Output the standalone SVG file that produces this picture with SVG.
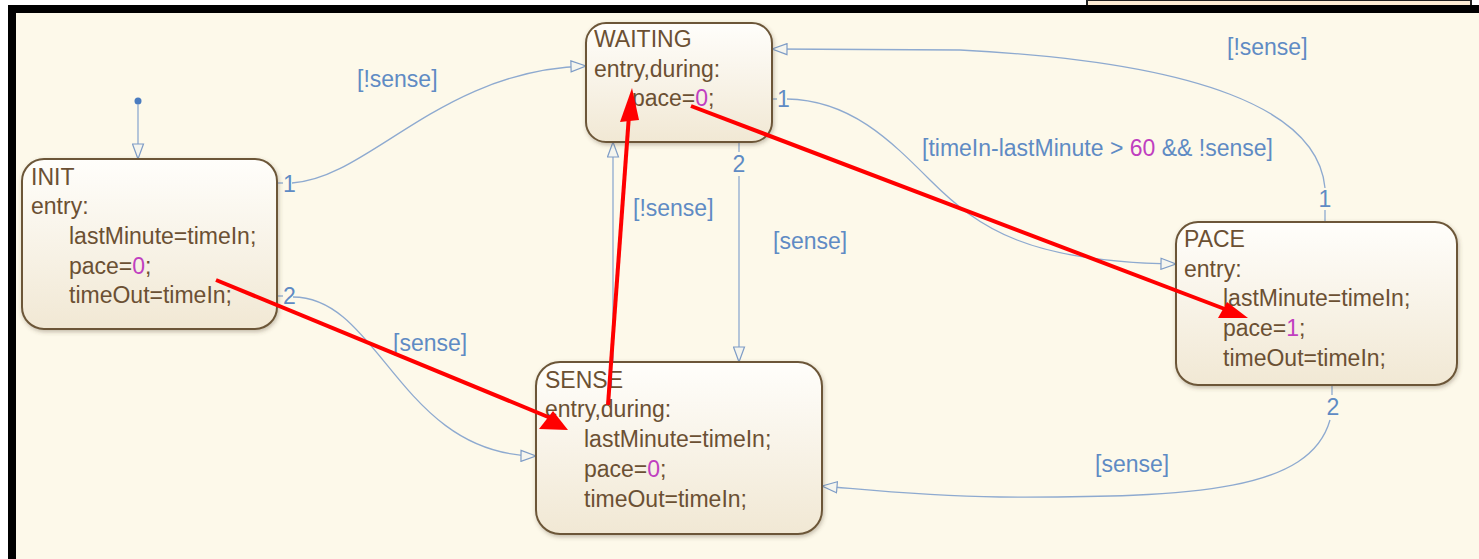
<svg xmlns="http://www.w3.org/2000/svg" width="1479" height="559" viewBox="0 0 1479 559">
<style>
.st{fill:url(#ng);stroke:#6c5739;stroke-width:2;filter:url(#sh)}
.nt{font-family:"Liberation Sans",Arial,sans-serif;font-size:23px;fill:#6b5033}
.num{fill:#c03fc0}
.lb{font-family:"Liberation Sans",Arial,sans-serif;font-size:23px;fill:#5f8bc4}
.cn{fill:none;stroke:#8eaad0;stroke-width:1.3}
.ar{marker-end:url(#oa)}
.red{stroke:#ff0000;stroke-width:4;fill:none}
.rh{fill:#ff0000}
</style>
<defs>
<linearGradient id="ng" x1="0" y1="0" x2="0" y2="1">
<stop offset="0" stop-color="#fffefb"/>
<stop offset="1" stop-color="#f1e8d4"/>
</linearGradient>
<filter id="sh" x="-10%" y="-10%" width="125%" height="130%">
<feDropShadow dx="1" dy="2" stdDeviation="2" flood-color="#5a4a30" flood-opacity="0.35"/>
</filter>
<marker id="oa" viewBox="0 0 17 13" refX="16" refY="6.5" markerWidth="17" markerHeight="13" markerUnits="userSpaceOnUse" orient="auto">
<path d="M1,1 L16,6.5 L1,12 Z" fill="#f5f5ee" stroke="#7e9cc6" stroke-width="1.2"/>
</marker>
</defs>
<rect x="0" y="0" width="1479" height="559" fill="#ffffff"/>
<rect x="1087" y="0" width="384" height="8" fill="#fcebd3" stroke="#222" stroke-width="2"/>
<rect x="16" y="13" width="1463" height="546" fill="#fdf9ea"/>
<rect x="8" y="5" width="1471" height="8" fill="#000"/>
<rect x="8" y="5" width="8" height="554" fill="#000"/>

<g id="connectors">
<circle cx="138" cy="101" r="3.5" fill="#4a7cc0"/>
<path class="cn ar" d="M138,104 L138,159"/>
<path class="cn" d="M277,183 L283,183"/>
<path class="cn ar" d="M292,183 C370,178 440,70 586,66"/>
<path class="cn" d="M277,296 L283,296"/>
<path class="cn ar" d="M293,297 C380,297 400,455 536,456"/>
<path class="cn" d="M739,142 L739,152"/>
<path class="cn ar" d="M739,176 L739,362"/>
<path class="cn ar" d="M613,362 L613,142"/>
<path class="cn" d="M772,99 L777,99"/>
<path class="cn ar" d="M787,99 C850,100 890,140 930,180 C980,230 1030,262 1176,264"/>
<path class="cn" d="M1325,222 L1325,210"/>
<path class="cn ar" d="M1325,188 C1318,110 1200,62 960,50 L772,49"/>
<path class="cn" d="M1332,385 L1332,395"/>
<path class="cn ar" d="M1330,420 C1310,490 1200,498 1000,497 C920,496 870,490 822,486"/>
<text class="lb" x="283" y="192">1</text>
<text class="lb" x="283" y="304">2</text>
<text class="lb" x="739" y="172" text-anchor="middle">2</text>
<text class="lb" x="777" y="107">1</text>
<text class="lb" x="1325" y="207" text-anchor="middle">1</text>
<text class="lb" x="1333" y="415" text-anchor="middle">2</text>
<text class="lb" x="357" y="87">[!sense]</text>
<text class="lb" x="1227" y="55">[!sense]</text>
<text class="lb" x="922" y="156">[timeIn-lastMinute &gt; <tspan class="num">60</tspan> &amp;&amp; !sense]</text>
<text class="lb" x="633" y="216">[!sense]</text>
<text class="lb" x="773" y="249">[sense]</text>
<text class="lb" x="393" y="351">[sense]</text>
<text class="lb" x="1095" y="472">[sense]</text>
</g>

<g id="INIT">
<rect class="st" x="22" y="159" width="255" height="170" rx="22"/>
<text class="nt" x="31" y="185">INIT</text>
<text class="nt" x="31" y="214">entry:</text>
<text class="nt" x="69" y="244">lastMinute=timeIn;</text>
<text class="nt" x="69" y="274">pace=<tspan class="num">0</tspan>;</text>
<text class="nt" x="69" y="303">timeOut=timeIn;</text>
</g>

<g id="WAITING">
<rect class="st" x="586" y="23" width="186" height="119" rx="20"/>
<text class="nt" x="594" y="47">WAITING</text>
<text class="nt" x="594" y="77">entry,during:</text>
<text class="nt" x="632" y="106">pace=<tspan class="num">0</tspan>;</text>
</g>

<g id="PACE">
<rect class="st" x="1176" y="222" width="281" height="163" rx="22"/>
<text class="nt" x="1184" y="247">PACE</text>
<text class="nt" x="1184" y="277">entry:</text>
<text class="nt" x="1223" y="306">lastMinute=timeIn;</text>
<text class="nt" x="1223" y="336">pace=<tspan class="num">1</tspan>;</text>
<text class="nt" x="1223" y="366">timeOut=timeIn;</text>
</g>

<g id="SENSE">
<rect class="st" x="536" y="362" width="286" height="172" rx="24"/>
<text class="nt" x="545" y="388">SENSE</text>
<text class="nt" x="545" y="417">entry,during:</text>
<text class="nt" x="584" y="447">lastMinute=timeIn;</text>
<text class="nt" x="584" y="477">pace=<tspan class="num">0</tspan>;</text>
<text class="nt" x="584" y="507">timeOut=timeIn;</text>
</g>

<g id="annotations">
<line class="red" x1="216" y1="280" x2="553" y2="419"/>
<polygon class="rh" points="539,429 553,411 568,430"/>
<line class="red" x1="608" y1="405" x2="629" y2="115"/>
<polygon class="rh" points="632,88 620,122 639,120"/>
<line class="red" x1="691" y1="106" x2="1230" y2="311"/>
<polygon class="rh" points="1218,318 1227,302 1248,318"/>
</g>
</svg>
